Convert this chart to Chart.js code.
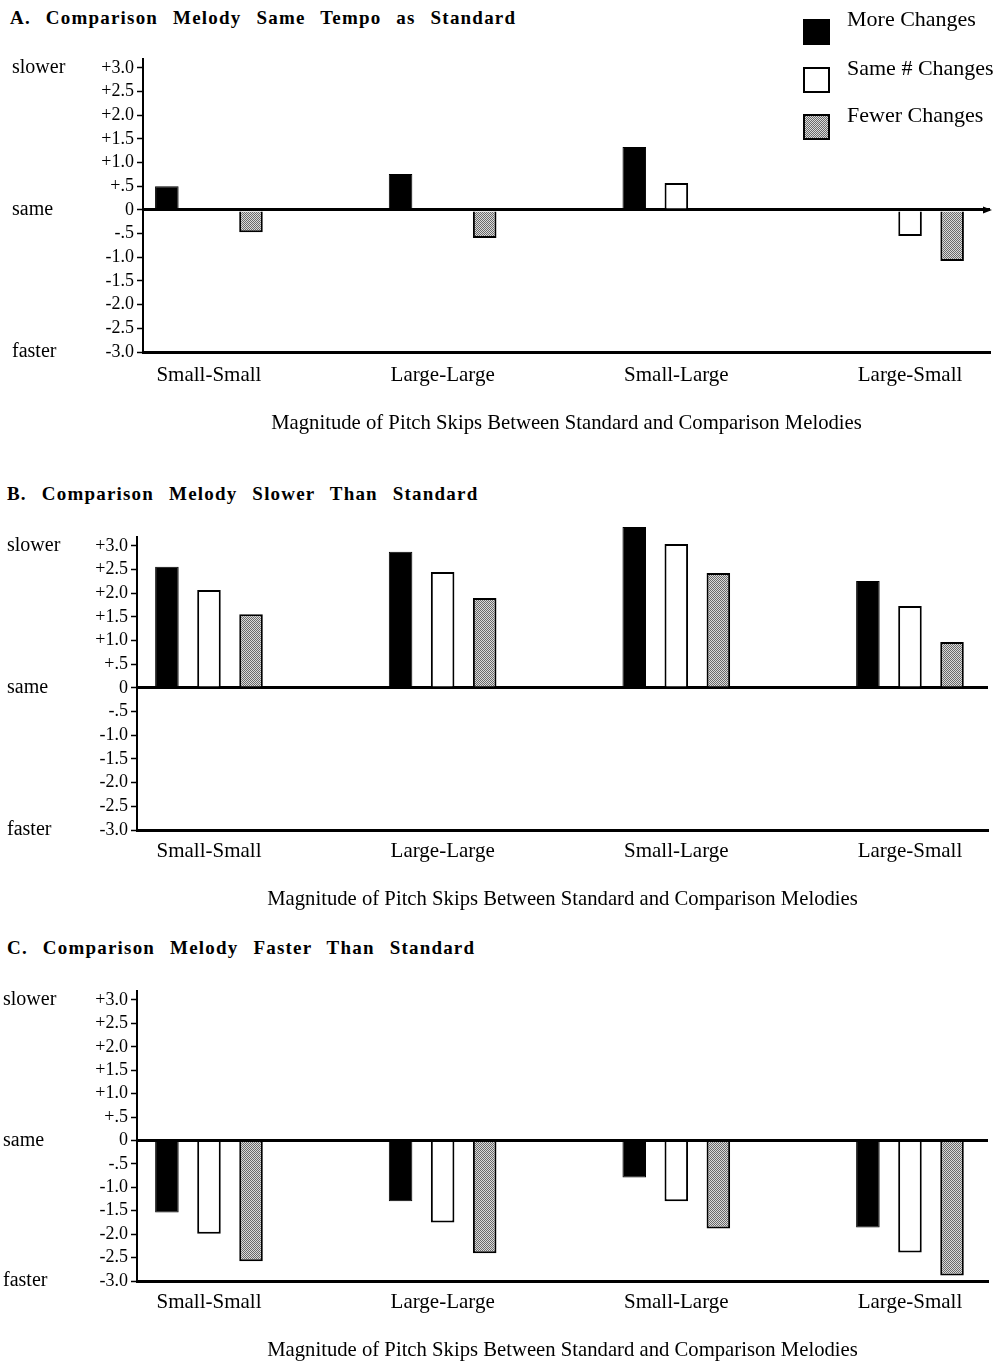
<!DOCTYPE html>
<html lang="en">
<head>
    <meta charset="UTF-8">
    <title>Pitch skips and tempo judgments</title>
    <script src="https://cdn.jsdelivr.net/npm/chart.js"></script>
    <style>
        body {
            margin: 0;
            width: 995px;
            height: 1363px;
            position: relative;
            overflow: hidden;
            background: #fff;
            font-family: "Liberation Serif", "DejaVu Serif", serif;
            color: #000;
        }
        .panel {
            position: absolute;
            left: 0;
            width: 995px;
        }
        .title {
            position: absolute;
            font-weight: bold;
            font-size: 19px;
            line-height: 22px;
            word-spacing: 9px;
            letter-spacing: 1.2px;
            white-space: nowrap;
        }
        .legend-item {
            position: absolute;
            left: 803px;
            font-size: 22px;
            line-height: 24px;
            white-space: nowrap;
        }
        .legend-item .swatch {
            position: absolute;
            left: 0;
            width: 23px;
            height: 22px;
            border: 2px solid #000;
        }
        .legend-item .text {
            position: absolute;
            left: 44px;
        }
    </style>
</head>
<body>
    <div id="panels"></div>
    <div id="legend"></div>

    <script type="text/javascript">
        // categories and series
        const categories = ['Small-Small', 'Large-Large', 'Small-Large', 'Large-Small'];
        const seriesNames = ['More Changes', 'Same # Changes', 'Fewer Changes'];
        const xTitle = 'Magnitude of Pitch Skips Between Standard and Comparison Melodies';

        // y ticks
        const yTickValues = [3, 2.5, 2, 1.5, 1, 0.5, 0, -0.5, -1, -1.5, -2, -2.5, -3];
        const yTickLabels = ['+3.0', '+2.5', '+2.0', '+1.5', '+1.0', '+.5', '0', '-.5', '-1.0', '-1.5', '-2.0', '-2.5', '-3.0'];
        const sideValues = [3, 0, -3];
        const sideLabels = ['slower', 'same', 'faster'];

        // A. same tempo
        const moreA = [0.5, 0.76, 1.33, null];
        const sameA = [null, null, 0.57, -0.55];
        const fewerA = [-0.47, -0.59, null, -1.08];
        // B. slower
        const moreB = [2.56, 2.88, 3.40, 2.26];
        const sameB = [2.07, 2.45, 3.04, 1.73];
        const fewerB = [1.56, 1.90, 2.43, 0.97];
        // C. faster
        const moreC = [-1.54, -1.30, -0.79, -1.86];
        const sameC = [-1.99, -1.75, -1.30, -2.39];
        const fewerC = [-2.58, -2.41, -1.88, -2.88];

        Chart.defaults.font.family = '"Liberation Serif", "DejaVu Serif", serif';
        Chart.defaults.color = '#000';

        // stippled grey fill
        const dot = document.createElement('canvas');
        dot.width = 2;
        dot.height = 2;
        const dg = dot.getContext('2d');
        dg.fillStyle = '#dadada';
        dg.fillRect(0, 0, 2, 2);
        dg.fillStyle = '#6a6a6a';
        dg.fillRect(0, 0, 1, 1);
        dg.fillRect(1, 1, 1, 1);
        const greyFill = dg.createPattern(dot, 'repeat');

        const fills = ['#000', '#fff', greyFill];
        const borderWidths = [1, 2, 2];

        const panels = [
            { id: 'chartA', title: 'A. Comparison Melody Same Tempo as Standard', data: [moreA, sameA, fewerA],
              top: 30, height: 406, padTop: 28.5, padL: 12, axisX: 143, padR: 5,
              xMin: -0.282, xMax: 3.342, tickPad: 10.5, xAxisH: 84, arrow: true, titleTop: 7, titleLeft: 10 },
            { id: 'chartB', title: 'B. Comparison Melody Slower Than Standard', data: [moreB, sameB, fewerB],
              top: 508, height: 404, padTop: 28.5, padL: 7, axisX: 137, padR: 7,
              xMin: -0.308, xMax: 3.334, tickPad: 9, xAxisH: 82, arrow: false, titleTop: 483, titleLeft: 7 },
            { id: 'chartC', title: 'C. Comparison Melody Faster Than Standard', data: [moreC, sameC, fewerC],
              top: 962, height: 401, padTop: 28.6, padL: 3, axisX: 137, padR: 7,
              xMin: -0.308, xMax: 3.334, tickPad: 9, xAxisH: 82, arrow: false, titleTop: 937, titleLeft: 7 }
        ];

        // arrowhead on the zero line
        const arrowPlugin = {
            id: 'zeroArrow',
            afterDraw(chart, args, opts) {
                if (!opts.show) return;
                const ctx = chart.ctx;
                const x = chart.chartArea.right;
                const y = chart.scales.y.getPixelForValue(0);
                ctx.save();
                ctx.fillStyle = '#000';
                ctx.beginPath();
                ctx.moveTo(x + 2, y);
                ctx.lineTo(x - 7, y - 3.5);
                ctx.lineTo(x - 7, y + 3.5);
                ctx.closePath();
                ctx.fill();
                ctx.restore();
            }
        };

        const yW = 64;
        const holder = document.getElementById('panels');

        panels.forEach(p => {
            const t = document.createElement('div');
            t.className = 'title';
            t.style.top = p.titleTop + 'px';
            t.style.left = p.titleLeft + 'px';
            t.textContent = p.title;
            document.body.appendChild(t);

            const box = document.createElement('div');
            box.className = 'panel';
            box.style.top = p.top + 'px';
            box.style.height = p.height + 'px';
            const cv = document.createElement('canvas');
            cv.id = p.id;
            box.appendChild(cv);
            holder.appendChild(box);

            new Chart(cv.getContext('2d'), {
                type: 'bar',
                data: {
                    datasets: seriesNames.map((name, s) => ({
                        label: name,
                        data: p.data[s].map((v, i) => ({ x: i, y: v })),
                        backgroundColor: fills[s],
                        borderColor: '#000',
                        borderWidth: borderWidths[s],
                        categoryPercentage: 0.54,
                        barPercentage: 0.56,
                        clip: false
                    }))
                },
                options: {
                    responsive: true,
                    maintainAspectRatio: false,
                    animation: false,
                    events: [],
                    layout: { padding: { top: p.padTop, left: p.padL, right: p.padR, bottom: 0 } },
                    plugins: {
                        legend: { display: false },
                        tooltip: { enabled: false },
                        zeroArrow: { show: p.arrow }
                    },
                    scales: {
                        x: {
                            type: 'linear',
                            min: p.xMin,
                            max: p.xMax,
                            offset: false,
                            afterBuildTicks: scale => { scale.ticks = categories.map((c, i) => ({ value: i })); },
                            afterFit: scale => { scale.height = p.xAxisH; },
                            ticks: {
                                autoSkip: false,
                                maxRotation: 0,
                                padding: p.tickPad,
                                font: { size: 21 },
                                callback: v => categories[v]
                            },
                            grid: { display: false, drawTicks: false },
                            border: { display: true, color: '#000', width: 3 },
                            title: {
                                display: true,
                                text: xTitle,
                                font: { size: 20.7 },
                                padding: { top: 0, bottom: 0 }
                            }
                        },
                        y: {
                            type: 'linear',
                            position: 'left',
                            weight: 0,
                            min: -3,
                            max: 3.2,
                            afterBuildTicks: scale => { scale.ticks = yTickValues.map(v => ({ value: v })); },
                            afterFit: scale => { scale.width = yW; },
                            ticks: {
                                autoSkip: false,
                                padding: 3,
                                font: { size: 18 },
                                callback: v => yTickLabels[yTickValues.indexOf(v)]
                            },
                            grid: {
                                drawOnChartArea: true,
                                color: c => (c.tick && c.tick.value === 0) ? '#000' : 'rgba(0,0,0,0)',
                                lineWidth: c => (c.tick && c.tick.value === 0) ? 3 : 1,
                                tickColor: '#000',
                                tickWidth: 1.5,
                                tickLength: 6
                            },
                            border: { display: true, color: '#000', width: 2 }
                        },
                        yside: {
                            type: 'linear',
                            position: 'left',
                            weight: 1,
                            min: -3,
                            max: 3.2,
                            afterBuildTicks: scale => { scale.ticks = sideValues.map(v => ({ value: v })); },
                            afterFit: scale => { scale.width = p.axisX - p.padL - yW; },
                            ticks: {
                                autoSkip: false,
                                crossAlign: 'far',
                                padding: 0,
                                font: { size: 20 },
                                callback: v => sideLabels[sideValues.indexOf(v)]
                            },
                            grid: { display: false, drawTicks: false },
                            border: { display: false }
                        }
                    }
                },
                plugins: [arrowPlugin]
            });
        });

        // legend, top right of panel A
        const legendTops = [19, 67, 114];
        const legendTextTops = [7, 56, 103];
        const legend = document.getElementById('legend');
        seriesNames.forEach((name, s) => {
            const item = document.createElement('div');
            item.className = 'legend-item';
            item.style.top = '0px';
            const sw = document.createElement('div');
            sw.className = 'swatch';
            sw.style.top = legendTops[s] + 'px';
            if (s === 2) {
                sw.style.background = 'url(' + dot.toDataURL() + ') repeat';
            } else {
                sw.style.background = fills[s];
            }
            const tx = document.createElement('div');
            tx.className = 'text';
            tx.style.top = legendTextTops[s] + 'px';
            tx.textContent = name;
            item.appendChild(sw);
            item.appendChild(tx);
            legend.appendChild(item);
        });
    </script>
</body>
</html>
